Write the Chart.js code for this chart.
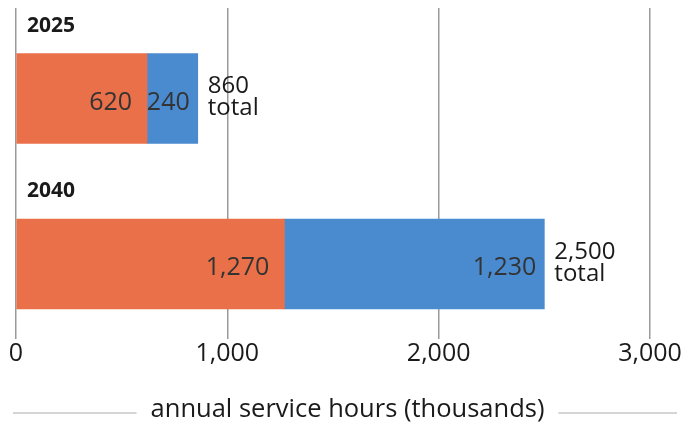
<!DOCTYPE html>
<html>
<head>
<meta charset="utf-8">
<script src="https://cdn.jsdelivr.net/npm/chart.js@4/dist/chart.umd.min.js"></script>
<style>
  html, body { margin: 0; padding: 0; background: #fff; }
  #wrap { width: 695px; height: 427px; position: relative; }
</style>
</head>
<body>
<div id="wrap"><canvas id="c" width="695" height="427"></canvas></div>
<script>
// ---- data ----
const categories = ['2025', '2040'];
const orangeValues = [620, 1270];
const blueValues = [240, 1230];
const xTicks = [0, 1000, 2000, 3000];
const axisTitle = 'annual service hours (thousands)';
const totalWord = 'total';

const FONT = '"Open Sans", "Noto Sans", sans-serif';
const ORANGE = '#ea7049';
const BLUE = '#4a8bcf';
const fmt = v => v.toLocaleString('en-US');

const totals = orangeValues.map((v, i) => v + blueValues[i]);

const overlay = {
  id: 'overlay',
  afterDatasetsDraw(chart) {
    const ctx = chart.ctx;
    const xs = chart.scales.x, ys = chart.scales.y;
    ctx.save();
    categories.forEach((cat, i) => {
      const yc = ys.getPixelForValue(i);
      const bar0 = chart.getDatasetMeta(0).data[i];
      const bar1 = chart.getDatasetMeta(1).data[i];
      const half = bar0.height / 2;
      // category label above bar
      ctx.font = 'bold 21px ' + FONT;
      ctx.fillStyle = '#1a1a1a';
      ctx.textAlign = 'left';
      ctx.textBaseline = 'middle';
      ctx.fillText(cat, xs.left + 11, yc - half - 28);
      // value labels inside segments
      ctx.font = '25px ' + FONT;
      ctx.fillStyle = '#333';
      ctx.textAlign = 'right';
      ctx.fillText(fmt(orangeValues[i]), bar0.x - 15, yc + 4);
      ctx.fillText(fmt(blueValues[i]), bar1.x - 8, yc + 4);
      // total labels
      ctx.font = '24px ' + FONT;
      ctx.fillStyle = '#1a1a1a';
      ctx.textAlign = 'left';
      const tx = xs.getPixelForValue(totals[i]) + 10;
      ctx.fillText(fmt(totals[i]), tx, yc - 12);
      ctx.fillText(totalWord, tx, yc + 10);
    });
    // axis title with side lines
    ctx.font = '25.5px ' + FONT;
    ctx.fillStyle = '#1a1a1a';
    ctx.textAlign = 'center';
    ctx.textBaseline = 'middle';
    const cx = chart.width / 2;
    const ty = 410;
    ctx.fillText(axisTitle, cx, ty);
    const w = ctx.measureText(axisTitle).width;
    ctx.strokeStyle = '#c8c8c8';
    ctx.lineWidth = 1.5;
    ctx.beginPath();
    ctx.moveTo(13, ty + 3); ctx.lineTo(cx - w / 2 - 14, ty + 3);
    ctx.moveTo(cx + w / 2 + 14, ty + 3); ctx.lineTo(677, ty + 3);
    ctx.stroke();
    ctx.restore();
  }
};

new Chart(document.getElementById('c'), {
  type: 'bar',
  data: {
    labels: categories,
    datasets: [
      { label: 'orange', data: orangeValues, backgroundColor: ORANGE, barThickness: 90 },
      { label: 'blue', data: blueValues, backgroundColor: BLUE, barThickness: 90 }
    ]
  },
  options: {
    indexAxis: 'y',
    responsive: false,
    animation: false,
    layout: { padding: { left: 16, right: 45, top: 8, bottom: 0 } },
    plugins: { legend: { display: false }, tooltip: { enabled: false } },
    scales: {
      x: {
        stacked: true,
        min: 0, max: 3000,
        afterBuildTicks(scale) { scale.ticks = xTicks.map(v => ({ value: v })); },
        afterFit(scale) { scale.height = 88; },
        border: { display: false },
        grid: { color: '#9a9a9a', lineWidth: 1.5, drawTicks: false },
        ticks: {
          padding: 0,
          color: '#1a1a1a',
          font: { family: FONT, size: 25 },
          callback: v => fmt(v)
        }
      },
      y: {
        stacked: true,
        display: false,
        afterDataLimits(scale) { scale.min = -0.047; scale.max = 1.071; }
      }
    }
  },
  plugins: [overlay]
});
</script>
</body>
</html>
